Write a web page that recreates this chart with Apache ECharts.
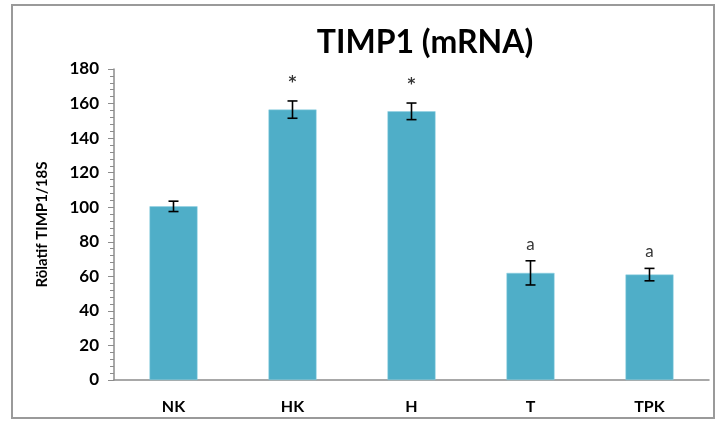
<!DOCTYPE html>
<html>
<head>
<meta charset="utf-8">
<script src="https://cdn.jsdelivr.net/npm/echarts@6/dist/echarts.min.js"></script>
<style>
html,body{margin:0;padding:0;background:#fff;}
#c{width:718px;height:423px;}
</style>
</head>
<body>
<div id="c"></div>
<script>
var categories = ['NK', 'HK', 'H', 'T', 'TPK'];
var means = [100.5, 156.5, 155.5, 62, 61];
var errors = [3, 5, 4.8, 7, 3.6];
var marks = ['', '*', '*', 'a', 'a'];
var yMin = 0, yMax = 180, yStep = 20;
var titleText = 'TIMP1 (mRNA)';
var yName = 'Rölatif TIMP1/18S';

var errData = categories.map(function (c, i) { return [i, means[i] - errors[i], means[i] + errors[i]]; });
var markData = categories.map(function (c, i) { return { value: [i, means[i] + errors[i]], mark: marks[i] }; });

var chart = echarts.init(document.getElementById('c'));
var FONT = 'Lato';
chart.setOption({
  animation: false,
  backgroundColor: '#fff',
  title: {
    text: titleText, left: 420, top: 22, textAlign: 'center',
    textStyle: { fontFamily: FONT, fontWeight: 'bold', fontSize: 32, color: '#000' }
  },
  graphic: [{
    type: 'rect', shape: { x: 12, y: 5, width: 702, height: 413 },
    style: { fill: 'none', stroke: '#9a9a9a', lineWidth: 2 }, silent: true
  }],
  grid: { left: 114, right: 9, top: 69, bottom: 43, containLabel: false },
  xAxis: {
    type: 'category', data: categories,
    axisLine: { lineStyle: { color: '#8c8c8c', width: 1.5 } },
    axisTick: { show: false },
    axisLabel: { margin: 19, fontFamily: FONT, fontWeight: 'bold', fontSize: 16, color: '#000' }
  },
  yAxis: {
    type: 'value', min: yMin, max: yMax, interval: yStep,
    name: yName, nameLocation: 'middle', nameGap: 64, nameRotate: 90,
    nameTextStyle: { fontFamily: FONT, fontWeight: 'bold', fontSize: 15, color: '#000' },
    axisLine: { show: true, lineStyle: { color: '#8c8c8c', width: 1.5 } },
    axisTick: { show: true, length: 6, lineStyle: { color: '#8c8c8c' } },
    minorTick: { show: true, splitNumber: 5, length: 4, lineStyle: { color: '#8c8c8c' } },
    splitLine: { show: false },
    axisLabel: { margin: 15, fontFamily: FONT, fontWeight: 'bold', fontSize: 17, color: '#000' }
  },
  series: [
    {
      type: 'bar', data: means, barWidth: 48,
      itemStyle: { color: '#4FAEC8', borderColor: '#8fd0e2', borderWidth: 0.5 }
    },
    {
      type: 'custom', data: errData, z: 10,
      renderItem: function (params, api) {
        var x = api.value(0);
        var lo = api.coord([x, api.value(1)]);
        var hi = api.coord([x, api.value(2)]);
        var w = 5;
        var st = { stroke: '#000', lineWidth: 1.6 };
        return { type: 'group', children: [
          { type: 'line', shape: { x1: hi[0], y1: hi[1], x2: lo[0], y2: lo[1] }, style: st },
          { type: 'line', shape: { x1: hi[0] - w, y1: hi[1], x2: hi[0] + w, y2: hi[1] }, style: st },
          { type: 'line', shape: { x1: lo[0] - w, y1: lo[1], x2: lo[0] + w, y2: lo[1] }, style: st }
        ] };
      }
    },
    {
      type: 'scatter', data: markData, symbolSize: 0, z: 11,
      label: {
        show: true, position: 'top', distance: 8,
        formatter: function (p) { return p.data.mark === '*' ? '{s|*}' : p.data.mark; },
        fontFamily: FONT, fontSize: 17, color: '#000',
        rich: { s: { fontFamily: 'DejaVu Sans', fontWeight: 'bold', fontSize: 15, color: '#000', padding: [0, 0, 2, 0] } }
      }
    }
  ]
});
</script>
</body>
</html>
